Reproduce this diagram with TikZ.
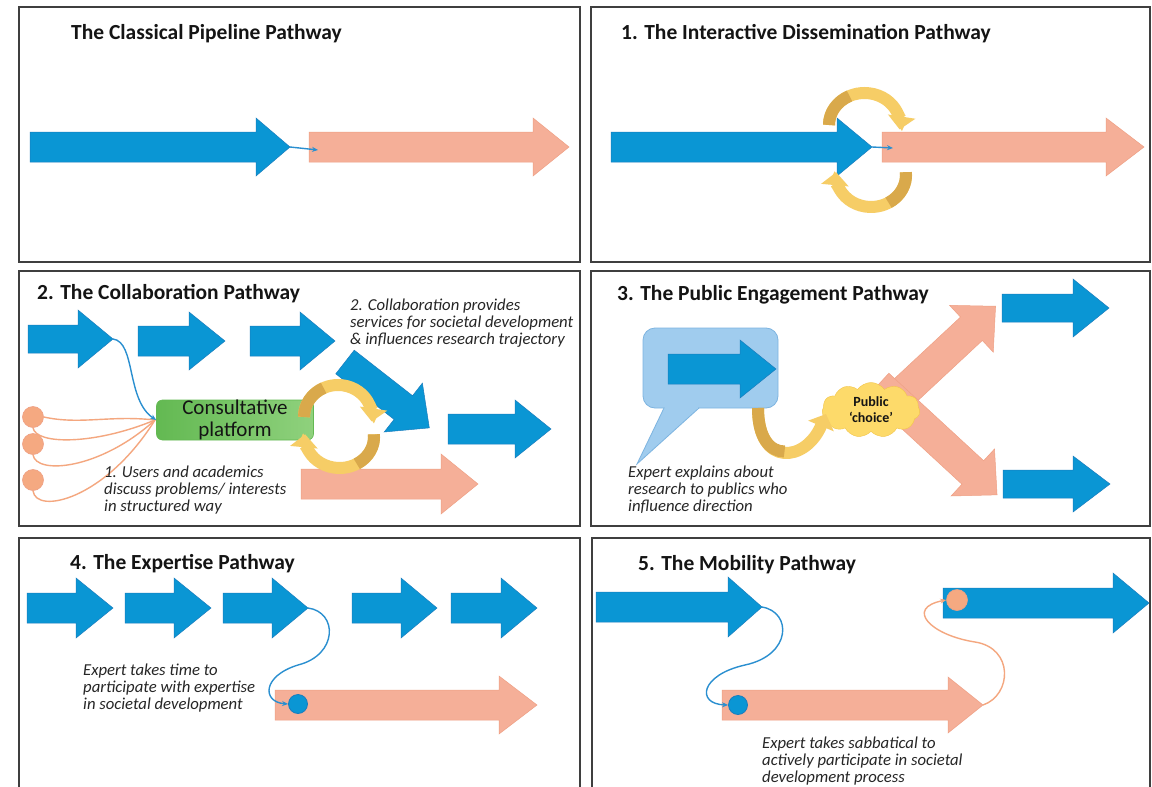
\documentclass[tikz,border=0pt]{standalone}
\usepackage{fontspec}
\setmainfont{Carlito}
\usetikzlibrary{arrows.meta,shapes.symbols,calc}
\definecolor{bluefill}{HTML}{0A96D4}
\definecolor{blueline}{HTML}{1A7DBE}
\definecolor{salfill}{HTML}{F5AF98}
\definecolor{salline}{HTML}{EFA084}
\definecolor{golddark}{HTML}{D9A94B}
\definecolor{goldmain}{HTML}{F6CD66}
\definecolor{greenA}{HTML}{63B952}
\definecolor{greenB}{HTML}{8FD17D}
\definecolor{bubblefill}{HTML}{A0CCEE}
\definecolor{bubbleline}{HTML}{7DB4E0}
\definecolor{cloudfill}{HTML}{FDDA6A}
\definecolor{cloudline}{HTML}{F3C54A}
\definecolor{framec}{HTML}{3F3F3F}
\definecolor{textc}{HTML}{141414}
\definecolor{notec}{HTML}{262626}
\definecolor{bluecurve}{HTML}{2A8FD0}
\definecolor{salcurve}{HTML}{F4A77F}
\definecolor{orangec}{HTML}{F5A981}
\newcommand\harrowshape[7]{\path[#1] (#2,#5-#6) -- (#3,#5-#6) -- (#3,#5-#7) -- (#4,#5) -- (#3,#5+#7) -- (#3,#5+#6) -- (#2,#5+#6) -- cycle;}
\begin{document}
\begin{tikzpicture}[x=1pt,y=-1pt,
  panelframe/.style={draw=framec, line width=1.3pt},
  bluearrow/.style={fill=bluefill, draw=blueline, line width=0.5pt},
  salarrow/.style={fill=salfill, draw=salline, line width=0.5pt},
  ribbon/.style={draw=goldmain, line width=12pt, -{Triangle[width=27pt,length=13pt]}},
  ribbondark/.style={draw=golddark, line width=12pt},
  bluecon/.style={draw=bluecurve, line width=1.4pt, -{Stealth[length=6pt,width=5pt]}},
  salcon/.style={draw=salcurve, line width=1.4pt},
  salconarr/.style={draw=salcurve, line width=1.4pt, -{Stealth[length=6pt,width=5pt]}},
  titletext/.style={anchor=west, inner sep=0pt, font=\fontsize{21.5}{24}\selectfont\bfseries, text=textc},
  note/.style={anchor=north west, inner sep=0pt, align=left, font=\fontsize{16.7}{16.8}\selectfont\itshape, text=notec},
  dotblue/.style={circle, fill=bluefill, draw=blueline, line width=0.8pt, minimum size=19pt, inner sep=0pt},
  dotsal/.style={circle, fill=orangec, draw=salline, line width=0.6pt, minimum size=21pt, inner sep=0pt},
]
\useasboundingbox (0,0) rectangle (1152,787);
\fill[white] (0,0) rectangle (1152,787);

% ---------- frames
\draw[panelframe] (19,7) rectangle (580,262);
\draw[panelframe] (591,7) rectangle (1150,262);
\draw[panelframe] (19,271) rectangle (580,526);
\draw[panelframe] (591,271) rectangle (1150,526);
\draw[panelframe] (19,800) -- (19,538) -- (580,538) -- (580,800);
\draw[panelframe] (592,800) -- (592,538) -- (1150,538) -- (1150,800);

% ---------- Panel 0: classical pipeline
\node[titletext] (t0) at (71,34) {The Classical Pipeline Pathway};
\harrowshape{bluearrow}{30}{256}{290}{147}{15}{29}
\harrowshape{salarrow}{309}{533}{569}{147}{15}{29}
\coordinate (p0tip) at (290,147);
\coordinate (p0end) at (318,150);
\draw[bluecon] (p0tip) -- (p0end);

% ---------- Panel 1: interactive dissemination
\node[titletext] (t1) at (621,34) {1. The Interactive Dissemination Pathway};
\harrowshape{bluearrow}{611}{837}{872}{147}{15}{29}
\harrowshape{salarrow}{882}{1106}{1144}{147}{15}{29}
\coordinate (p1tip) at (872,147);
\coordinate (p1end) at (893,148);
\draw[bluecon] (p1tip) -- (p1end);
\draw[ribbon] (829,125) arc[start angle=180, end angle=368, x radius=35.5, y radius=32];
\draw[ribbondark] (829,125) arc[start angle=180, end angle=245, x radius=35.5, y radius=32];
\draw[ribbon] (905.9,172.2) arc[start angle=-5, end angle=185, x radius=35, y radius=32];
\draw[ribbondark] (905.9,172.2) arc[start angle=-5, end angle=60, x radius=35, y radius=32];

% ---------- Panel 2: collaboration
\node[titletext] (t2) at (37,294) {2. The Collaboration Pathway};
\harrowshape{bluearrow}{28}{78}{113}{339}{14}{29}
\harrowshape{bluearrow}{138}{189}{225}{341}{15}{29}
\harrowshape{bluearrow}{250}{300}{335}{341}{15}{29}
\begin{scope}[shift={(345,362)}, rotate=-38]
  \harrowshape{bluearrow}{0}{74}{107}{0}{15}{31}
\end{scope}
\harrowshape{bluearrow}{448}{515}{551}{429}{15}{29}
\harrowshape{salarrow}{301}{441}{478}{484}{15}{30}
\node[draw=greenA, line width=0.6pt, rounded corners=6pt, left color=greenA, right color=greenB,
      minimum width=157pt, minimum height=40pt, inner sep=0pt, align=center,
      font=\fontsize{21}{22}\selectfont, text=textc] (plat) at (235,420) {Consultative\\platform};
\node[dotsal] (c1) at (33,417) {};
\node[dotsal] (c2) at (33,444) {};
\node[dotsal] (c3) at (33,480) {};
\coordinate (platin) at (155,420);
\draw[salcon] (c1.south) .. controls (36,445) and (95,445) .. (platin);
\draw[salcon] (c2.south) .. controls (36,475) and (100,470) .. (platin);
\draw[salcon] (c3.south) .. controls (36,515) and (105,500) .. (platin);
\draw[salcon] (c1.east) .. controls (80,425) and (110,415) .. (platin);
\coordinate (a1tip) at (113,339);
\draw[bluecon] (a1tip) .. controls (136,342) and (126,400) .. (plat.west);
\draw[ribbon] (304,417) arc[start angle=180, end angle=368, x radius=34, y radius=32];
\draw[ribbondark] (304,417) arc[start angle=180, end angle=245, x radius=34, y radius=32];
\draw[ribbon] (373.9,434.3) arc[start angle=-5, end angle=185, x radius=34.5, y radius=31];
\draw[ribbondark] (373.9,434.3) arc[start angle=-5, end angle=60, x radius=34.5, y radius=31];
\node[note] (n2a) at (350,299) {2. Collaboration provides\\services for societal development\\\& influences research trajectory};
\node[note] (n2b) at (104,466) {1. Users and academics\\discuss problems/ interests\\in structured way};

% ---------- Panel 3: public engagement
\node[titletext] (t3) at (617,295) {3. The Public Engagement Pathway};
\draw[bubbleline, fill=bubblefill, line width=0.8pt, rounded corners=12pt] (643,328) rectangle (778,408);
\draw[bubbleline, fill=bubblefill, line width=0.8pt] (664,408) -- (637,464) -- (699,408);
\fill[bubblefill] (665,403) rectangle (698,409.2);
\harrowshape{bluearrow}{668}{740}{776}{369}{15}{29}
\begin{scope}[shift={(880,414)}, rotate=43]
  \harrowshape{salarrow}{0}{125}{158}{0}{16}{32}
\end{scope}
\begin{scope}[shift={(878,385)}, rotate=-42.7]
  \harrowshape{salarrow}{0}{129}{162}{0}{16}{32}
\end{scope}
\harrowshape{bluearrow}{1002}{1073}{1109}{308}{14}{29}
\harrowshape{bluearrow}{1003}{1073}{1110}{484}{14}{28}
\node[cloud, cloud puffs=11, cloud puff arc=110, aspect=1.8, draw=cloudline, fill=cloudfill,
      minimum width=98pt, minimum height=55pt, inner sep=0pt, align=center,
      font=\fontsize{14}{16}\selectfont\bfseries, text=textc] (cloud) at (871,410) {Public\\‘choice’};
\coordinate (bubout) at (758,408);
\draw[ribbon] (bubout) .. controls (758,468) and (806,462) .. (826,414);
\draw[ribbondark] (bubout) .. controls (758,438) and (770,451.5) .. (784.5,451.5);
\node[note] (n3) at (628,466) {Expert explains about\\research to publics who\\influence direction};

% ---------- Panel 4: expertise
\node[titletext] (t4) at (70,564) {4. The Expertise Pathway};
\harrowshape{bluearrow}{27}{76}{113}{608}{15}{30}
\harrowshape{bluearrow}{125}{174}{211}{608}{15}{30}
\harrowshape{bluearrow}{223}{272}{308}{608}{15}{30}
\harrowshape{bluearrow}{352}{401}{437}{608}{15}{30}
\harrowshape{bluearrow}{451}{501}{537}{608}{15}{30}
\harrowshape{salarrow}{275}{499}{537}{705}{15}{29}
\node[dotblue] (d4) at (298,704) {};
\coordinate (a4tip) at (308,608);
\draw[bluecon] (a4tip) .. controls (338,612) and (338,655) .. (298,665) .. controls (262,676) and (262,702) .. (d4.west);
\node[note] (n4) at (83,664) {Expert takes time to\\participate with expertise\\in societal development};

% ---------- Panel 5: mobility
\node[titletext] (t5) at (638,565) {5. The Mobility Pathway};
\harrowshape{bluearrow}{596}{728}{762}{607}{15}{30}
\harrowshape{salarrow}{722}{948}{983}{705}{15}{28}
\harrowshape{bluearrow}{943}{1113}{1149}{603}{15}{30}
\node[dotblue] (d5) at (738,705) {};
\node[dotsal] (o5) at (957,600) {};
\coordinate (a5tip) at (762,607);
\coordinate (s5tip) at (983,705);
\draw[bluecon] (a5tip) .. controls (792,612) and (792,655) .. (745,665) .. controls (700,675) and (696,704) .. (d5.west);
\draw[salconarr] (s5tip) .. controls (1012,695) and (1014,648) .. (975,642) .. controls (930,635) and (905,608) .. (o5.west);
\node[note] (n5) at (762,737) {Expert takes sabbatical to\\actively participate in societal\\development process};
\end{tikzpicture}
\end{document}
